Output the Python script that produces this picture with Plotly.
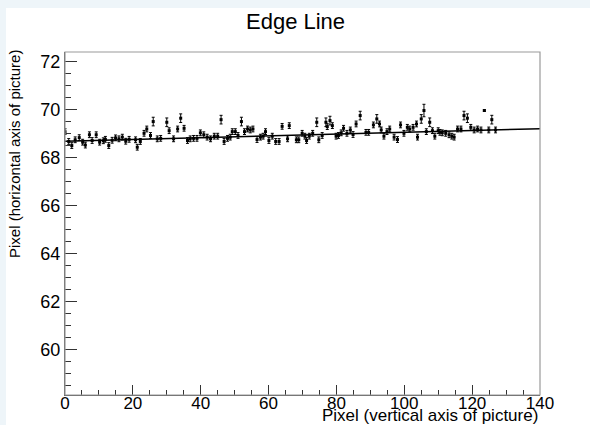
import plotly.graph_objects as go

# ---- data ----
x_vals = [0, 1.1, 2, 3, 4.2, 5.2, 6, 7.2, 8, 9.2, 10.2, 11.3, 11.9, 12.9, 13.9, 14.9, 15.9, 16.9, 17.9, 18.9,
          20.8, 21.3, 22.2, 23.3, 24.1, 25.2, 26, 27.2, 28.2, 30, 30.7, 32, 33.2, 34.1, 35.1, 36.1, 36.9, 37.9, 38.9,
          39.9, 40.9, 41.9, 42.9,
          44, 45, 46, 46.9, 47.9, 48.7, 49.3, 50.2, 51, 52, 52.9, 53.8, 54.6, 55.4, 56.6, 57.6, 58.4, 59.1, 60.1,
          61.1, 62.1, 63.1, 64, 65.6, 66.1,
          68.2, 68.9, 69.9, 70.7, 71.2, 72, 73, 74.2, 74.8, 75.8, 76.9, 77.3, 78.1, 78.8, 79.9, 80.6, 81.4, 82.1,
          83.1, 84.1, 84.9, 85.8, 87,
          88.7, 89.5, 90.9, 91.9, 92.7, 93.2, 94, 94.9, 95.7, 97, 98, 98.9, 99.9, 100.9, 101.6, 102.6, 103.6, 103.9,
          105, 105.8, 106.5, 107.5, 108.3, 109, 110,
          110.5, 111.2, 112.2, 113.2, 114, 114.7, 115.7, 116.7, 117.6, 118.6, 119.6, 120.6, 121.6, 122.6, 123.6,
          124.9, 125.8, 126.9]
y_vals = [69.08, 68.67, 68.50, 68.74, 68.83, 68.64, 68.52, 68.95, 68.71, 68.95, 68.64, 68.70, 68.76, 68.50, 68.72,
          68.82, 68.78, 68.85, 68.68, 68.76,
          68.74, 68.43, 68.67, 69.01, 69.19, 68.92, 69.50, 68.78, 68.80, 69.47, 69.12, 68.78, 69.19, 69.64, 69.22,
          68.71, 68.78, 68.80, 68.80, 69.03, 68.95, 68.85, 68.78,
          68.89, 68.89, 69.58, 68.67, 68.80, 68.85, 69.08, 69.08, 68.92, 69.50, 69.08, 69.19, 69.15, 69.19, 68.75,
          68.85, 68.89, 69.08, 68.71, 68.89, 68.67, 68.67, 69.30, 68.78, 69.33,
          68.74, 68.74, 69.01, 68.89, 68.71, 68.89, 69.01, 69.47, 68.74, 68.92, 69.47, 69.29, 69.54, 69.33, 68.89,
          68.92, 69.03, 69.22, 69.01, 69.15, 68.96, 69.40, 69.75,
          69.05, 69.05, 69.36, 69.61, 69.40, 69.15, 68.89, 69.08, 69.19, 68.85, 68.75, 69.36, 69.01, 69.26, 69.19,
          69.26, 69.40, 68.85, 69.61, 69.96, 69.08, 69.47, 69.12, 68.89, 69.12,
          69.05, 69.03, 69.01, 68.95, 68.89, 68.85, 69.19, 69.19, 69.75, 69.64, 69.26, 69.15, 69.19, 69.15, 69.96,
          69.15, 69.58, 69.15]
fit_x = [0, 140]
fit_y = [68.68, 69.20]

# error half-lengths: larger for the outlying points
y_err = []
for i, v in enumerate(y_vals):
    if abs(x_vals[i] - 123.6) < 0.01:
        y_err.append(0.03)
    elif v > 69.85:
        y_err.append(0.26)
    elif v > 69.4:
        y_err.append(0.18)
    else:
        y_err.append(0.12)

x_ticks = [0, 20, 40, 60, 80, 100, 120, 140]
y_ticks = [60, 62, 64, 66, 68, 70, 72]

W, H = 590, 425
L, R, T, B = 65, 50, 52, 30
pw, ph = W - L - R, H - T - B

def px(xp):
    return (xp - L) / pw

def py(yp):
    return (H - B - yp) / ph

FONT = "Liberation Sans, Arial, Helvetica, sans-serif"

fig = go.Figure()
fig.add_trace(go.Scatter(
    x=x_vals, y=y_vals, mode="markers",
    marker=dict(symbol="square", size=3, color="black"),
    error_y=dict(type="data", array=y_err, visible=True, color="black", thickness=1, width=1.5),
    showlegend=False, hoverinfo="x+y"))
fig.add_trace(go.Scatter(
    x=fit_x, y=fit_y, mode="lines", line=dict(color="black", width=1.5),
    showlegend=False, hoverinfo="skip"))

fig.update_layout(
    width=W, height=H,
    margin=dict(l=L, r=R, t=T, b=B, autoexpand=False),
    paper_bgcolor="#eef5f9",
    plot_bgcolor="white",
    font=dict(family=FONT, color="black"),
    shapes=[
        dict(type="rect", xref="paper", yref="paper", x0=px(6), x1=px(W + 2), y0=py(H + 2), y1=py(8),
             fillcolor="white", line=dict(width=0), layer="below"),
        dict(type="rect", xref="paper", yref="paper", x0=0, x1=1, y0=0, y1=1,
             fillcolor="rgba(0,0,0,0)", line=dict(color="#9a9a9a", width=1.2)),
    ],
    annotations=[
        dict(text="Edge Line", xref="paper", yref="paper", x=px(295), y=py(21), xanchor="center",
             yanchor="middle", showarrow=False, font=dict(size=22, family=FONT)),
        dict(text="Pixel (vertical axis of picture)", xref="paper", yref="paper", x=px(540), y=py(415),
             xanchor="right", yanchor="middle", showarrow=False, font=dict(size=17, family=FONT)),
        dict(text="Pixel (horizontal axis of picture)", xref="paper", yref="paper", x=px(14), y=py(48),
             xanchor="center", yanchor="top", textangle=-90, showarrow=False, font=dict(size=15, family=FONT)),
    ],
)
fig.update_xaxes(
    range=[0, 140], tickvals=x_ticks, ticktext=[str(v) for v in x_ticks],
    ticks="inside", ticklen=10, tickcolor="#333", tickwidth=1,
    minor=dict(dtick=5, ticks="inside", ticklen=5, tickcolor="#333", showgrid=False),
    showgrid=False, zeroline=False, showline=True, linecolor="#555", linewidth=1,
    tickfont=dict(size=17, family=FONT), mirror=False, automargin=False, ticklabelstandoff=-7,
)
fig.update_yaxes(
    range=[58.1, 72.4], tickvals=y_ticks, ticktext=[str(v) for v in y_ticks],
    ticks="inside", ticklen=12, tickcolor="#333", tickwidth=1,
    minor=dict(dtick=0.5, ticks="inside", ticklen=6, tickcolor="#333", showgrid=False),
    showgrid=False, zeroline=False, showline=True, linecolor="#555", linewidth=1,
    tickfont=dict(size=18, family=FONT), mirror=False, automargin=False,
)

fig.write_html("out.html")
